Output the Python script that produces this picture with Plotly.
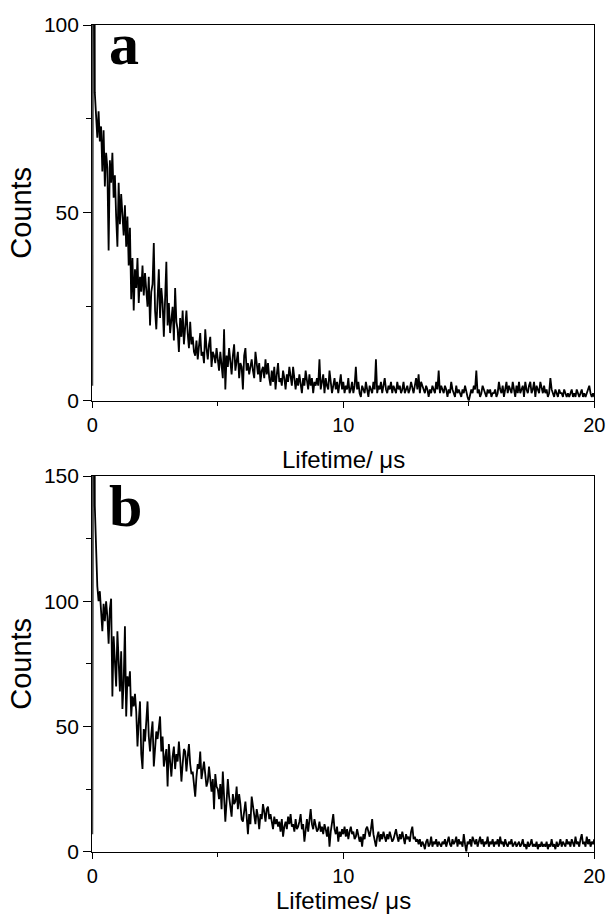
import plotly.graph_objects as go

# ---------------- data ----------------
STEP_US = 0.05  # channel width in microseconds

counts_a = [
    4, 250, 82, 76, 70, 77, 69, 73, 61, 72, 57, 66, 62, 40, 64, 58, 66, 54, 60, 49,
    41, 58, 47, 55, 50, 44, 52, 41, 49, 36, 46, 27, 38, 24, 35, 30, 38, 26, 33, 29,
    36, 28, 34, 30, 25, 33, 20, 29, 31, 42, 24, 19, 28, 35, 22, 30, 26, 17, 27, 37,
    20, 26, 18, 23, 25, 16, 30, 21, 19, 13, 22, 17, 24, 15, 20, 24, 18, 14, 21, 15,
    17, 13, 12, 16, 11, 14, 18, 12, 13, 10, 19, 14, 11, 15, 17, 9, 13, 12, 10, 14,
    11, 8, 13, 10, 6, 19, 3, 12, 9, 14, 10, 7, 12, 15, 8, 11, 13, 6, 10, 9,
    3, 12, 14, 8, 10, 7, 9, 11, 8, 6, 13, 9, 7, 10, 5, 8, 9, 6, 11, 7,
    10, 6, 4, 8, 5, 9, 3, 7, 10, 5, 6, 4, 8, 6, 3, 7, 5, 9, 6, 4,
    9, 5, 3, 6, 4, 7, 5, 2, 6, 4, 8, 5, 3, 7, 4, 6, 2, 5, 4, 6,
    4, 11, 3, 5, 7, 2, 6, 4, 3, 8, 5, 2, 4, 6, 3, 5, 2, 4, 7, 3,
    5, 2, 4, 3, 6, 2, 3, 5, 2, 4, 9, 3, 5, 2, 1, 4, 3, 2, 5, 3,
    1, 4, 3, 2, 5, 3, 11, 2, 4, 3, 5, 2, 4, 6, 3, 2, 4, 3, 5, 2,
    4, 3, 2, 5, 3, 4, 2, 3, 5, 2, 3, 4, 2, 3, 5, 3, 2, 4, 6, 3,
    7, 2, 5, 4, 3, 2, 4, 3, 1, 3, 2, 4, 3, 2, 5, 3, 8, 2, 4, 3,
    2, 4, 3, 1, 3, 2, 5, 3, 2, 1, 4, 2, 3, 2, 1, 3, 2, 4, 2, 1,
    0, 2, 3, 2, 4, 3, 8, 2, 3, 1, 2, 4, 3, 2, 1, 3, 2, 3, 1, 2,
    2, 3, 1, 2, 5, 3, 2, 4, 1, 3, 5, 2, 4, 3, 2, 5, 3, 1, 4, 2,
    5, 2, 3, 4, 1, 5, 3, 2, 4, 5, 2, 3, 5, 1, 4, 3, 2, 5, 3, 2,
    4, 2, 3, 1, 2, 6, 3, 2, 1, 3, 2, 1, 3, 2, 2, 1, 3, 2, 1, 2,
    1, 2, 3, 1, 2, 1, 3, 2, 1, 2, 3, 1, 2, 1, 2, 3, 4, 2, 1, 2, 1,
]

counts_b = [
    7, 350, 138, 118, 106, 100, 104, 96, 88, 99, 92, 100, 94, 83, 97, 101, 62, 86, 78, 66,
    88, 73, 64, 80, 57, 68, 90, 54, 70, 66, 72, 54, 62, 58, 63, 56, 42, 52, 60, 39,
    33, 49, 44, 52, 60, 46, 40, 47, 52, 34, 42, 48, 45, 50, 54, 40, 46, 34, 38, 41,
    26, 43, 36, 30, 38, 42, 33, 39, 36, 44, 37, 28, 35, 41, 40, 32, 38, 43, 35, 31,
    32, 27, 22, 30, 35, 33, 40, 29, 33, 36, 31, 26, 28, 34, 29, 24, 29, 17, 31, 26,
    25, 21, 27, 17, 32, 24, 12, 20, 29, 22, 18, 14, 23, 19, 20, 26, 17, 23, 19, 13,
    12, 16, 20, 14, 7, 15, 11, 22, 18, 13, 11, 17, 14, 9, 15, 13, 19, 16, 12, 17,
    18, 13, 15, 12, 9, 14, 11, 13, 10, 12, 8, 13, 6, 10, 12, 9, 14, 11, 15, 10,
    11, 8, 13, 9, 10, 12, 15, 9, 11, 4, 10, 13, 8, 12, 17, 11, 9, 13, 10, 8,
    9, 12, 8, 10, 7, 11, 9, 6, 10, 2, 8, 11, 15, 9, 7, 10, 4, 8, 6, 9,
    7, 10, 6, 9, 5, 8, 10, 7, 8, 5, 6, 9, 7, 4, 6, 2, 7, 5, 9, 10,
    8, 6, 9, 13, 7, 5, 2, 6, 8, 4, 7, 5, 8, 6, 4, 7, 5, 8, 6, 4,
    5, 7, 9, 6, 4, 7, 5, 8, 6, 3, 7, 5, 6, 4, 8, 10, 5, 6, 4, 5,
    3, 5, 2, 4, 3, 1, 4, 5, 2, 3, 6, 2, 4, 3, 5, 2, 4, 3, 2, 4,
    3, 5, 2, 4, 6, 3, 2, 5, 3, 4, 6, 2, 5, 3, 4, 2, 7, 3, 0, 4,
    3, 5, 2, 6, 4, 3, 5, 2, 4, 6, 3, 5, 2, 4, 3, 6, 2, 4, 3, 5,
    2, 4, 3, 5, 2, 6, 3, 4, 2, 5, 3, 2, 4, 3, 5, 2, 3, 4, 2, 3,
    4, 2, 3, 5, 2, 3, 1, 4, 2, 3, 5, 2, 3, 2, 4, 1, 3, 2, 4, 2,
    3, 2, 4, 1, 3, 2, 5, 2, 3, 1, 4, 2, 3, 5, 2, 4, 3, 2, 5, 3,
    4, 2, 5, 3, 2, 6, 3, 4, 2, 5, 7, 3, 4, 2, 6, 3, 5, 2, 4, 3, 5,
]

time_a = [i * STEP_US for i in range(len(counts_a))]
time_b = [i * STEP_US for i in range(len(counts_b))]

x_range = [0, 20]
x_ticks = [0, 10, 20]
y_range_a = [0, 100]
y_ticks_a = [0, 50, 100]
y_range_b = [0, 150]
y_ticks_b = [0, 50, 100, 150]

x_title_a = "Lifetime/ μs"
x_title_b = "Lifetimes/ μs"
y_title = "Counts"
panel_labels = ["a", "b"]

# ---------------- figure ----------------
W, H = 609, 915
SANS = "Liberation Sans, Arial, sans-serif"
SERIF = "Liberation Serif, Times New Roman, serif"

fig = go.Figure()
fig.add_trace(go.Scatter(x=time_a, y=counts_a, mode="lines",
                         line=dict(color="black", width=1.8),
                         xaxis="x", yaxis="y", showlegend=False))
fig.add_trace(go.Scatter(x=time_b, y=counts_b, mode="lines",
                         line=dict(color="black", width=1.8),
                         xaxis="x2", yaxis="y2", showlegend=False))

x_dom = [92.3 / W, 594.3 / W]
dom_a = [1 - 400.7 / H, 1 - 25.0 / H]
dom_b = [1 - 851.7 / H, 1 - 476.0 / H]

def xaxis_style(anchor):
    return dict(
        domain=x_dom, range=x_range, anchor=anchor, automargin=False,
        tickmode="array", tickvals=x_ticks,
        ticks="outside", ticklen=6, tickwidth=1.3, tickcolor="black",
        minor=dict(ticks="outside", dtick=5, tick0=0, ticklen=4,
                   tickwidth=1.3, tickcolor="black", showgrid=False),
        showline=True, linecolor="black", linewidth=1.3, mirror=True,
        showgrid=False, zeroline=False,
        tickfont=dict(family=SANS, size=20, color="black"),
    )

def yaxis_style(rng, tickvals, domain, anchor):
    return dict(
        domain=domain, range=rng, anchor=anchor, automargin=False,
        tickmode="array", tickvals=tickvals,
        ticks="outside", ticklen=8, tickwidth=1.3, tickcolor="black",
        minor=dict(ticks="outside", dtick=25, tick0=0, ticklen=5,
                   tickwidth=1.3, tickcolor="black", showgrid=False),
        showline=True, linecolor="black", linewidth=1.3, mirror=True,
        showgrid=False, zeroline=False,
        tickfont=dict(family=SANS, size=21, color="black"),
        title=dict(text=y_title, font=dict(family=SANS, size=29, color="black"),
                   standoff=3),
    )

fig.update_layout(
    width=W, height=H, autosize=False,
    margin=dict(l=0, r=0, t=0, b=0, autoexpand=False),
    paper_bgcolor="white", plot_bgcolor="white",
    showlegend=False,
    xaxis=xaxis_style("y"),
    yaxis=yaxis_style(y_range_a, y_ticks_a, dom_a, "x"),
    xaxis2=xaxis_style("y2"),
    yaxis2=yaxis_style(y_range_b, y_ticks_b, dom_b, "x2"),
)

# x-axis titles as annotations for precise placement
x_center = (x_dom[0] + x_dom[1]) / 2
for title, cy in zip([x_title_a, x_title_b], [459, 900]):
    fig.add_annotation(text=title, xref="paper", yref="paper",
                       x=x_center, y=1 - cy / H, xanchor="center", yanchor="middle",
                       showarrow=False,
                       font=dict(family=SANS, size=24, color="black"))

label_y = [1 - 44 / H, 1 - 506 / H]
for lab, ly in zip(panel_labels, label_y):
    fig.add_annotation(text="<b>%s</b>" % lab, xref="paper", yref="paper",
                       x=107 / W, y=ly, xanchor="left", yanchor="middle",
                       showarrow=False,
                       font=dict(family=SERIF, size=60, color="black"))

fig.write_html("out.html")
